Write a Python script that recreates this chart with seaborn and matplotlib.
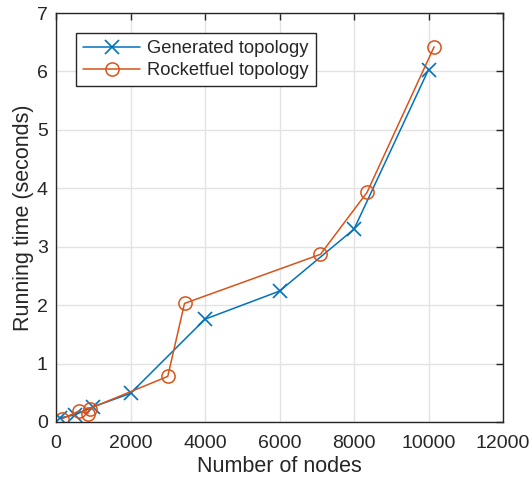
import matplotlib
matplotlib.use("Agg")
import matplotlib.pyplot as plt
import seaborn as sns
import pandas as pd

# Data
gen_nodes = [100, 500, 1000, 2000, 4000, 6000, 8000, 10000]
gen_time = [0.07, 0.12, 0.26, 0.49, 1.76, 2.24, 3.30, 6.03]

rf_nodes = [150, 620, 850, 900, 3000, 3450, 7100, 8350, 10150]
rf_time = [0.05, 0.19, 0.14, 0.23, 0.78, 2.03, 2.87, 3.93, 6.42]

series_names = ["Generated topology", "Rocketfuel topology"]
x_ticks = [0, 2000, 4000, 6000, 8000, 10000, 12000]
y_ticks = [0, 1, 2, 3, 4, 5, 6, 7]

sns.set_style("white")
plt.rcParams['font.family'] = ['Liberation Sans', 'DejaVu Sans']

df_gen = pd.DataFrame({"nodes": gen_nodes, "time": gen_time})
df_rf = pd.DataFrame({"nodes": rf_nodes, "time": rf_time})

fig = plt.figure(figsize=(5.32, 4.83), dpi=100)
ax = fig.add_axes([56 / 532, 61 / 483, 447 / 532, 409 / 483])

blue = "#0072BD"
orange = "#D95319"

sns.lineplot(data=df_gen, x="nodes", y="time", ax=ax, sort=False, color=blue,
             marker="x", markersize=10, markeredgecolor=blue,
             markeredgewidth=1.2, linewidth=1.1,
             label=series_names[0])
sns.lineplot(data=df_rf, x="nodes", y="time", ax=ax, sort=False, color=orange,
             marker="o", markersize=9.5, markerfacecolor="none",
             markeredgecolor=orange, markeredgewidth=1.1, linewidth=1.1,
             label=series_names[1])

ax.set_xlim(0, 12000)
ax.set_ylim(0, 7)
ax.set_xticks(x_ticks)
ax.set_yticks(y_ticks)
ax.set_xticklabels([str(t) for t in x_ticks])
ax.set_yticklabels([str(t) for t in y_ticks])

ax.grid(True, color="#E3E3E3", linewidth=1.0)
ax.set_axisbelow(True)
for s in ax.spines.values():
    s.set_visible(True)
    s.set_color("#262626")
    s.set_linewidth(1.0)
ax.tick_params(direction="in", length=5, width=1, colors="#262626",
               top=True, right=True, labelsize=14)
ax.tick_params(axis="x", pad=9)
ax.tick_params(axis="y", pad=6)

ax.set_xlabel("Number of nodes", fontsize=15.5, color="#262626", labelpad=3)
ax.set_ylabel("Running time (seconds)", fontsize=15.5, color="#262626", labelpad=2)

leg = ax.legend(loc="upper left", bbox_to_anchor=(20 / 447, 1 - 20 / 409),
                fontsize=13.2, frameon=True, fancybox=False, framealpha=1,
                edgecolor="#262626", borderpad=0.4, handlelength=3.1,
                labelspacing=0.25, handletextpad=0.35, borderaxespad=0)
leg.get_frame().set_linewidth(1.0)

fig.savefig("out.png", dpi=100)
